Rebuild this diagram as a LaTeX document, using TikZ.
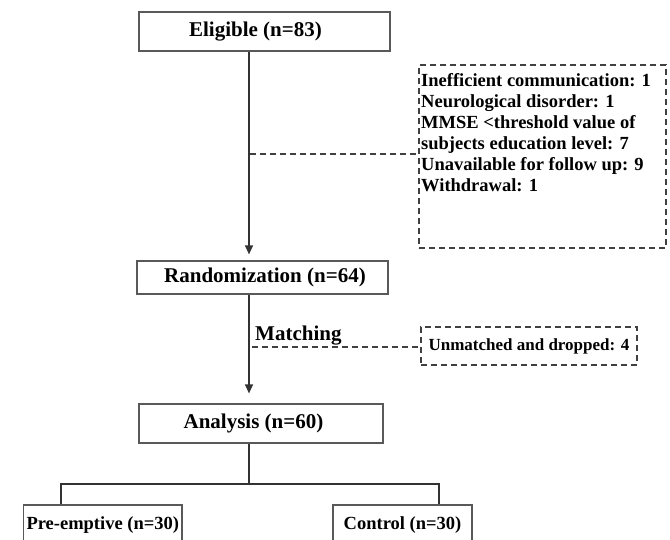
\documentclass[tikz,border=0pt]{standalone}
\usepackage{fontspec}
\setmainfont{Liberation Serif}
\usetikzlibrary{arrows.meta}
\begin{document}
\begin{tikzpicture}[x=1pt,y=-1pt,
  box/.style={draw=black!65, line width=1.2pt, rectangle, inner sep=0pt, font=\bfseries\fontsize{21}{25}\selectfont},
  smallbox/.style={draw=black!65, line width=1.2pt, rectangle, inner sep=0pt, font=\bfseries\fontsize{18.5}{21}\selectfont},
  dbox/.style={draw=black!75, line width=1.3pt, dash pattern=on 6pt off 4pt, rectangle, inner sep=0pt},
  conn/.style={draw=black!80, line width=1.2pt},
  arr/.style={conn, -{Triangle[length=9pt,width=8pt]}},
  dconn/.style={draw=black!75, line width=1.3pt, dash pattern=on 6pt off 4pt},
]
\useasboundingbox (0,0) rectangle (670,539);
\clip (0,0) rectangle (670,539);

% main boxes
\node[box, minimum width=251pt, minimum height=39pt] (elig) at (264.5,31.5) {Eligible (n=83)\hspace*{18pt}};
\node[box, minimum width=251pt, minimum height=33pt] (rand) at (262.5,277.5) {\hspace*{5pt}Randomization (n=64)};
\node[box, minimum width=244pt, minimum height=39pt] (ana) at (261,423.5) {Analysis (n=60)\hspace*{15pt}};

\coordinate (sp) at (249,0);
\draw[arr, shorten >=6pt] (elig.south -| sp) -- (rand.north -| sp);
\draw[arr, shorten >=10pt] (rand.south -| sp) -- (ana.north -| sp);

% exclusion box
\node[dbox, minimum width=247pt, minimum height=183pt] (excl) at (542.5,156.5) {};
\node[anchor=north west, inner sep=0pt, align=left, font=\bfseries\fontsize{18.5}{21}\selectfont] (excltxt) at (421,73)
  {Inefficient communication: 1\\Neurological disorder: 1\\MMSE <threshold value of\\subjects education level: 7\\Unavailable for follow up: 9\\Withdrawal: 1};
\coordinate (d1) at (250,154);
\draw[dconn] (d1) -- (excl.west |- d1);

% matching
\node[dbox, minimum width=216pt, minimum height=38pt, font=\bfseries\fontsize{17}{20}\selectfont] (unm) at (529,346) {Unmatched and dropped: 4};
\coordinate (d2) at (252,347);
\draw[dconn] (d2) -- (unm.west |- d2);
\node[anchor=base west, inner sep=0pt, font=\bfseries\fontsize{21}{25}\selectfont] (match) at (255,340) {Matching};

% groups
\node[smallbox, minimum width=158.5pt, minimum height=40pt] (pre) at (102.75,525) {Pre-emptive (n=30)};
\node[smallbox, minimum width=139pt, minimum height=40pt] (ctl) at (402.5,525) {Control (n=30)};
\coordinate (j) at (249,484);
\coordinate (lx) at (61,484);
\coordinate (rx) at (439,484);
\draw[conn] (ana.south -| sp) -- (j);
\draw[conn] (pre.north -| lx) -- (lx) -- (rx) -- (ctl.north -| rx);
\end{tikzpicture}
\end{document}
